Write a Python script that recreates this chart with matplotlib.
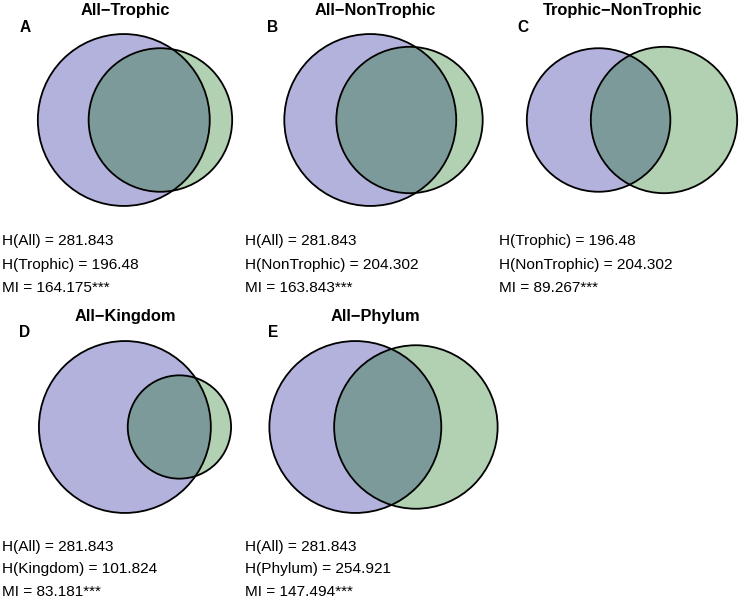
import numpy as np
import matplotlib
matplotlib.use("Agg")
import matplotlib.pyplot as plt
from matplotlib.patches import Circle

plt.rcParams['font.family'] = ['Liberation Sans', 'DejaVu Sans']

# ---- data ----
titles = ["All\u2212Trophic", "All\u2212NonTrophic", "Trophic\u2212NonTrophic",
          "All\u2212Kingdom", "All\u2212Phylum"]
letters = ["A", "B", "C", "D", "E"]
set1_names = ["All", "All", "Trophic", "All", "All"]
set2_names = ["Trophic", "NonTrophic", "NonTrophic", "Kingdom", "Phylum"]
h1 = [281.843, 281.843, 196.48, 281.843, 281.843]
h2 = [196.48, 204.302, 204.302, 101.824, 254.921]
mi = [164.175, 163.843, 89.267, 83.181, 147.494]
sig = ["***", "***", "***", "***", "***"]

# ---- layout (pixel units) ----
W, H = 741, 598
k = 5.12                       # radius scale: r = k*sqrt(entropy)
col_mid = [135, 383.5, 632]    # diagram bbox mid x
row_mid = [120, 427]           # circle centre y
title_x = [125, 375, 623]
letter_x = [25, 273, 523]
text_x = [2, 245, 499]
title_base = [15, 321]
letter_base = [32, 337]
text_base = [[245, 268.5, 292], [551, 573.5, 596]]

blue = (0, 0, 139/255)
green = (0, 100/255, 0)


def lens_area(d, r1, r2):
    if d >= r1 + r2:
        return 0.0
    if d <= abs(r1 - r2):
        return np.pi * min(r1, r2) ** 2
    a1 = r1**2 * np.arccos((d**2 + r1**2 - r2**2) / (2 * d * r1))
    a2 = r2**2 * np.arccos((d**2 + r2**2 - r1**2) / (2 * d * r2))
    a3 = 0.5 * np.sqrt((-d + r1 + r2) * (d + r1 - r2) * (d - r1 + r2) * (d + r1 + r2))
    return a1 + a2 - a3


def solve_d(r1, r2, target):
    lo, hi = abs(r1 - r2), r1 + r2
    for _ in range(100):
        mid = 0.5 * (lo + hi)
        if lens_area(mid, r1, r2) > target:
            lo = mid
        else:
            hi = mid
    return 0.5 * (lo + hi)


fig = plt.figure(figsize=(W / 100, H / 100), dpi=100)
ax = fig.add_axes([0, 0, 1, 1])
ax.set_xlim(0, W)
ax.set_ylim(H, 0)
ax.set_aspect('equal')
ax.axis('off')

for i in range(5):
    row, col = divmod(i, 3)
    r1 = k * np.sqrt(h1[i])
    r2 = k * np.sqrt(h2[i])
    d = solve_d(r1, r2, np.pi * k**2 * mi[i])
    width = r1 + max(r1, d + r2)
    c1 = col_mid[col] - width / 2 + r1
    c2 = c1 + d
    cy = row_mid[row]
    for cx, r, colr in [(c1, r1, blue), (c2, r2, green)]:
        ax.add_patch(Circle((cx, cy), r, facecolor=colr, alpha=0.3,
                            edgecolor='none', zorder=1))
    for cx, r in [(c1, r1), (c2, r2)]:
        ax.add_patch(Circle((cx, cy), r, facecolor='none',
                            edgecolor='black', lw=1.3, zorder=2))
    ax.text(title_x[col], title_base[row], titles[i], fontsize=11.8,
            fontweight='bold', ha='center', va='baseline')
    ax.text(letter_x[col], letter_base[row], letters[i], fontsize=11.2,
            fontweight='bold', ha='center', va='baseline')
    lines = [f"H({set1_names[i]}) = {h1[i]}",
             f"H({set2_names[i]}) = {h2[i]}",
             f"MI = {mi[i]}{sig[i]}"]
    for j, s in enumerate(lines):
        ax.text(text_x[col], text_base[row][j], s, fontsize=11.1,
                ha='left', va='baseline')

fig.savefig("out.png", dpi=100)
